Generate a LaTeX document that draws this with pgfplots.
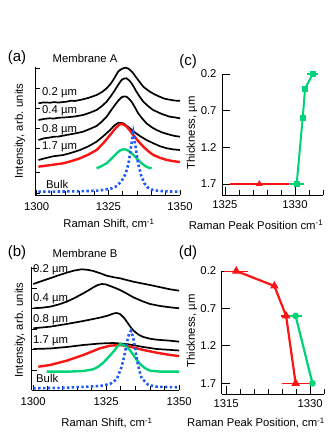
\documentclass[border=0pt]{standalone}
\usepackage{fontspec}
\setmainfont{Liberation Sans}
\usepackage{pgfplots}
\pgfplotsset{compat=1.18}
\definecolor{myred}{RGB}{250,20,20}
\definecolor{mygreen}{RGB}{0,210,120}
\definecolor{myblue}{RGB}{30,90,250}
\newcommand{\fs}{\fontsize{11.3bp}{13bp}\selectfont}
\pgfplotsset{
  base/.style={scale only axis, anchor=south west,
    axis x line*=bottom, axis y line*=left,
    axis line style={-, line width=0.9bp},
    tick align=inside, tick style={line width=0.8bp, black},
    tick label style={font=\fs},
    /pgf/number format/assume math mode=true,
    enlargelimits=false},
  spec/.style={base, yticklabels={}, major tick length=5bp, minor tick length=3.5bp,
    xtick={1300,1325,1350}, xticklabels={1300,1325,1350}, minor x tick num=4,
    xticklabel style={yshift=-4bp}},
  peak/.style={base, y dir=reverse, major tick length=8bp, minor tick length=5bp,
    ytick={0.2,0.7,1.2,1.7}, yticklabels={0.2,0.7,1.2,1.7},
    yticklabel style={xshift=-2bp}, xticklabel style={yshift=-2bp}},
  blk/.style={black, line width=1.7bp},
  redc/.style={myred, line width=2.4bp},
  grnc/.style={mygreen, line width=2.4bp},
  bluc/.style={myblue, line width=2.6bp, dash pattern=on 2.4bp off 2.4bp},
  ebr/.style={error bars/.cd, x dir=both, x explicit,
    error bar style={line width=1.4bp, color=myred},
    error mark options={color=myred, mark size=3bp, line width=1.2bp}},
  ebg/.style={error bars/.cd, x dir=both, x explicit,
    error bar style={line width=1.4bp, color=mygreen},
    error mark options={color=mygreen, mark size=2.5bp, line width=1.2bp}},
}
\begin{document}
\begin{tikzpicture}
\path[use as bounding box] (0,0) rectangle (336bp,439bp);
% ---------------- (a)
\begin{axis}[spec, at={(35bp,244bp)}, width=145bp, height=128bp,
  xmin=1299.4, xmax=1350, ymin=0, ymax=128,
  ytick={2,23,47,67,87,107,127}]
\addplot[blk] coordinates {(1300.6,91.7)(1302.4,92.6)(1304.6,92.3)(1306.2,92.9)(1307.5,92.4)(1310.4,93.3)(1312.0,94.3)(1313.3,94.0)(1316.2,95.7)(1318.5,97.5)(1320.9,100)(1322.8,103)(1324.4,106.7)(1325.6,110.5)(1326.7,115)(1327.6,119.5)(1328.4,123.3)(1329.3,125.5)(1330.2,126.7)(1331.0,127.3)(1331.9,126.5)(1332.8,124.5)(1333.7,121.7)(1334.6,118)(1335.4,115)(1336.3,111.5)(1337.2,108.3)(1338.3,105.8)(1339.5,103.3)(1341.2,100.5)(1342.9,98.3)(1344.6,96.3)(1346.4,95.3)(1348.2,94.4)(1350,94.2)};
\addplot[blk] coordinates {(1300.6,75)(1302.6,76.1)(1304.6,76.7)(1306.0,76.4)(1307.5,77.2)(1310.4,77.7)(1313.3,78.5)(1316.2,80)(1318.5,82.2)(1320.9,85)(1322.7,88.8)(1324.4,93.3)(1325.9,99)(1327.3,105)(1328.5,110.5)(1329.6,115)(1330.5,116.5)(1331.3,116.7)(1332.2,114.8)(1333.1,111.7)(1334.0,107.5)(1334.8,103.3)(1336.0,98)(1337.2,93.3)(1338.9,88.8)(1340.6,85)(1343.5,81.2)(1346.4,78.3)(1348.2,77.6)(1350,76.7)};
\addplot[blk] coordinates {(1300.6,55)(1302.6,56.7)(1304.6,57.5)(1306.0,58.3)(1307.5,58.4)(1310.4,60)(1313.3,61.5)(1316.2,63.3)(1318.5,66)(1320.9,69)(1322.7,73.3)(1324.4,78.3)(1325.9,84.5)(1327.3,90)(1328.5,94.5)(1329.6,97.7)(1330.5,98.6)(1331.3,98.3)(1332.2,96.2)(1333.1,93.3)(1334.3,87.5)(1335.4,81.7)(1336.9,76.2)(1338.3,71.7)(1340.0,68)(1341.8,65)(1344.1,62.2)(1346.4,60.3)(1348.2,59.0)(1350,58.3)};
\addplot[blk] coordinates {(1300.6,35)(1303.0,36.8)(1305.5,38.6)(1309.3,40)(1312.2,42.3)(1315.1,45)(1318.0,48.6)(1320.9,53.3)(1323.3,59)(1325.6,65)(1327.1,69.5)(1328.5,72.3)(1330.2,71.7)(1332.5,66.7)(1334.3,62.5)(1336.0,59)(1338.3,55)(1340.7,51.7)(1343.0,48.8)(1345.4,46.7)(1347.7,45.6)(1350,45)};
\addplot[redc] coordinates {(1300.6,28.3)(1305.0,30.0)(1309.3,31.7)(1312.2,34.0)(1315.1,36.7)(1318.0,40.4)(1320.9,45)(1323.3,52)(1325.6,60)(1327.4,66.5)(1329.1,71)(1330.3,70.5)(1331.4,68.3)(1332.5,64.5)(1333.7,60)(1335.4,54)(1337.2,48.3)(1339.0,43.6)(1340.7,40)(1343.0,37.2)(1345.4,35)(1347.7,33.8)(1350,33)};
\addplot[grnc] coordinates {(1320.9,26.7)(1322.6,28.8)(1324.4,31.7)(1326.2,36.7)(1327.9,41.7)(1329.1,44.6)(1330.2,45.7)(1331.4,45.2)(1332.5,43.3)(1333.7,40.2)(1334.9,36.7)(1336.3,32.5)(1337.8,29)(1339.0,27.4)(1340.1,26.7)};
\addplot[bluc] coordinates {(1300.6,3.3)(1310,3.5)(1318,4)(1322,4.5)(1326,6.5)(1328,9)(1329.6,14)(1331,21)(1332,31)(1333,50)(1333.7,62)(1334.4,50)(1335.4,31)(1336.4,20)(1337.5,12)(1338.5,8)(1340,5.5)(1342,4.3)(1346,3.5)(1350,3.3)};
\end{axis}
% ---------------- (b)
\begin{axis}[spec, at={(31.7bp,49bp)}, width=147.5bp, height=123bp,
  xmin=1299.5, xmax=1350, ymin=0, ymax=123,
  ytick={0,20,41,61,82,102,122}]
\addplot[blk] coordinates {(1300.06,106)(1303,109)(1305.77,111.7)(1308.6,114.6)(1311.48,117.3)(1314,119.4)(1316.61,120.7)(1318.6,120.2)(1320.61,119)(1322.9,116.8)(1325.17,114.3)(1327.5,112.8)(1329.74,111.7)(1332,110)(1334.31,108.3)(1337.2,106.6)(1340.01,105)(1343.5,102.8)(1346.86,100.7)(1350,99.3)};
\addplot[blk] coordinates {(1300.06,81.7)(1303,82.3)(1305.77,83.3)(1308.6,85.4)(1311.48,88.3)(1314.3,92.2)(1317.18,96.7)(1319,99.8)(1320.61,102.7)(1322,104.8)(1323.46,106)(1324.9,105.6)(1326.32,104)(1328,102.2)(1329.74,100)(1332,96.5)(1334.31,92.7)(1337.2,89)(1340.01,86)(1343.5,84)(1346.86,82.7)(1350,81.7)};
\addplot[blk] coordinates {(1300.06,61.7)(1305.77,63.3)(1311.48,66)(1317.18,69)(1320.6,71)(1323.5,72.8)(1325.7,74.5)(1327.5,76.5)(1328.6,77)(1329.74,76)(1331,72.5)(1332.02,68.5)(1333.2,63.5)(1334.31,59.5)(1336,55.5)(1337.73,53)(1340,51.3)(1342.3,50.3)(1346.86,49.3)(1350,48.3)};
\addplot[blk] coordinates {(1300.06,41)(1305.77,41.5)(1311.48,43)(1317.18,45)(1322.89,46.5)(1327.46,47)(1332.02,46)(1337.73,43)(1342.3,41)(1350,39.5)};
\addplot[redc] coordinates {(1301.77,23.3)(1305.77,25)(1311.48,29.3)(1317.18,35)(1322.89,41.7)(1326.32,44.3)(1329.74,45)(1333.17,43.3)(1337.73,40)(1342.3,37.3)(1346.86,35)(1350,34)};
\addplot[grnc] coordinates {(1304.63,18.3)(1311.48,18.3)(1317.18,19)(1320.61,20.7)(1322.3,23.4)(1324.03,27.3)(1325.7,32.5)(1327.46,38.3)(1328.6,42.6)(1329.74,45.7)(1330.9,45.3)(1332.02,43.3)(1333.2,39.5)(1334.31,35)(1335.45,30.2)(1336.59,26)(1338.3,21.8)(1340.01,19.3)(1343.5,18.4)(1346.86,18.3)(1350,18.3)};
\addplot[bluc] coordinates {(1300.06,1.7)(1311.48,2.3)(1322.89,4)(1326.32,6)(1328.6,10.7)(1330.31,23.3)(1331.2,34)(1332.02,46.7)(1332.8,56)(1333.5,59.3)(1334.31,51.7)(1334.9,42)(1335.45,31.7)(1336.3,20)(1337.16,11.7)(1339.45,5)(1342.3,3.3)(1350,2.7)};
\end{axis}
% ---------------- (c)
\begin{axis}[peak, at={(222bp,244bp)}, width=101bp, height=121bp,
  xmin=1324.79, xmax=1332.0, ymin=0.2, ymax=1.85,
  xtick={1325,1330}, xticklabels={1325,1330},
  minor xtick={1326,1327,1328,1329,1331,1332}]
\addplot[myred, line width=1.3bp, mark=triangle*, mark size=2.6bp, ebr]
  coordinates {(1327.45,1.7) +- (1.9,0)};
\addplot[mygreen, line width=2bp, mark=square*, mark size=2bp, ebg]
  coordinates {(1331.26,0.2) +- (0.2,0) (1330.72,0.4) +- (0,0) (1330.55,0.8) +- (0,0) (1330.12,1.7) +- (0.35,0)};
\end{axis}
% ---------------- (d)
\begin{axis}[peak, at={(221.7bp,45bp)}, width=102.5bp, height=123bp,
  xmin=1314.2, xmax=1332.5, ymin=0.2, ymax=1.843,
  xtick={1315,1330}, xticklabels={1315,1330},
  minor xtick={1317.5,1320,1322.5,1325,1327.5,1332.5}]
\addplot[myred, line width=2.2bp, mark=triangle*, mark size=2.8bp, ebr]
  coordinates {(1316.8,0.2) +- (1.6,0) (1323.6,0.4) +- (0,0) (1325.7,0.8) +- (0.3,0) (1327.4,1.7) +- (1.95,0)};
\addplot[mygreen, line width=2.2bp, mark=*, mark size=2.2bp, ebg]
  coordinates {(1327.4,0.8) +- (0.75,0) (1330.4,1.7) +- (0,0)};
\end{axis}
% ---------------- texts
\node[font=\fontsize{15bp}{17bp}\selectfont] at (17bp,381bp) {(a)};
\node[font=\fs] at (85bp,381bp) {Membrane A};
\node[font=\fontsize{15bp}{17bp}\selectfont] at (188bp,377bp) {(c)};
\node[font=\fontsize{15bp}{17bp}\selectfont] at (17bp,186bp) {(b)};
\node[font=\fs] at (85bp,186bp) {Membrane B};
\node[font=\fontsize{15bp}{17bp}\selectfont] at (188bp,186bp) {(d)};
\node[font=\fs, rotate=90] at (20bp,308bp) {Intensity, arb. units};
\node[font=\fs, rotate=90] at (20bp,109bp) {Intensity, arb. units};
\node[font=\fs, rotate=90] at (192bp,306bp) {Thickness, µm};
\node[font=\fs, rotate=90] at (192bp,108bp) {Thickness, µm};
\node[font=\fs] at (109bp,215bp) {Raman Shift, cm\textsuperscript{-1}};
\node[font=\fs] at (107bp,16bp) {Raman Shift, cm\textsuperscript{-1}};
\node[font=\fs] at (256bp,214bp) {Raman Peak Position cm\textsuperscript{-1}};
\node[font=\fs] at (256bp,16bp) {Raman Peak Position, cm\textsuperscript{-1}};
\node[font=\fs, anchor=west, inner sep=0pt] at (42bp,346bp) {0.2 µm};
\node[font=\fs, anchor=west, inner sep=0pt] at (42bp,328bp) {0.4 µm};
\node[font=\fs, anchor=west, inner sep=0pt] at (42bp,309bp) {0.8 µm};
\node[font=\fs, anchor=west, inner sep=0pt] at (42bp,292bp) {1.7 µm};
\node[font=\fs, anchor=west, inner sep=0pt] at (46bp,255bp) {Bulk};
\node[font=\fs, anchor=west, inner sep=0pt] at (33bp,169bp) {0.2 µm};
\node[font=\fs, anchor=west, inner sep=0pt] at (33bp,140bp) {0.4 µm};
\node[font=\fs, anchor=west, inner sep=0pt] at (33bp,119bp) {0.8 µm};
\node[font=\fs, anchor=west, inner sep=0pt] at (33bp,98bp) {1.7 µm};
\node[font=\fs, anchor=west, inner sep=0pt] at (36bp,61bp) {Bulk};
\end{tikzpicture}
\end{document}
